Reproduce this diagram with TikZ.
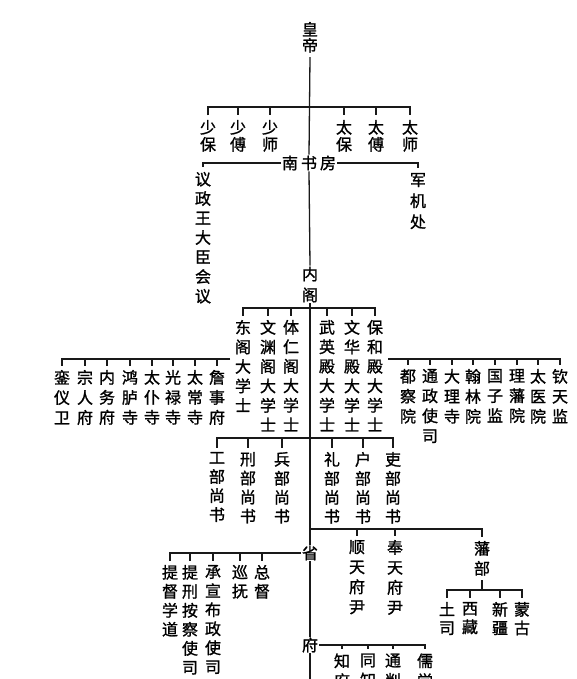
\documentclass[tikz,border=0pt]{standalone}
\usepackage{fontspec}
\newfontfamily\cjk[FakeBold=1.2]{Noto Sans CJK SC}
\newcommand\cjkA{\cjk\fontsize{16}{20}\selectfont}
\newcommand\cjkS[1]{\cjk\fontsize{16}{#1}\selectfont}
\begin{document}
\begin{tikzpicture}[x=1pt,y=-1pt,
 vt/.style={font=\cjkA,align=center,inner sep=0pt,outer xsep=0pt,outer ysep=4.5pt,anchor=north,text=black},
 tn/.style={font=\cjkA,align=center,inner sep=1pt,outer sep=0pt,fill=white,text=black},
 ln/.style={line width=1.3pt,draw=black!90}]
\useasboundingbox (0,0) rectangle (576,679);
\clip (0,0) rectangle (576,679);

% ---- top
\node[vt,font=\cjkS{16}] (hd) at (310,17.5) {皇\\帝};
\node[vt,font=\cjkS{17}] (sb) at (208,115.5) {少\\保};
\node[vt,font=\cjkS{17}] (sf) at (238,115.5) {少\\傅};
\node[vt,font=\cjkS{17}] (ss) at (270,115.5) {少\\师};
\node[vt,font=\cjkS{17}] (tb) at (344,115.5) {太\\保};
\node[vt,font=\cjkS{17}] (tf) at (376,115.5) {太\\傅};
\node[vt,font=\cjkS{17}] (ts) at (410,115.5) {太\\师};
\node[tn] (nsf) at (309,163) {南\hspace{3pt}书\hspace{3pt}房};
\node[vt,font=\cjkS{19.5}] (yz) at (203,167.5) {议\\政\\王\\大\\臣\\会\\议};
\node[vt,font=\cjkS{21}] (jjc) at (418,168.5) {军\\机\\处};
\node[tn,font=\cjkS{21}] (ng) at (310,284.5) {内\\阁};

% ---- grand secretaries
\node[vt,font=\cjkS{19.5}] (d1) at (243,315.5) {东\\阁\\大\\学\\士};
\node[vt,font=\cjkS{19.5}] (d2) at (268,315.5) {文\\渊\\阁\\大\\学\\士};
\node[vt,font=\cjkS{19.5}] (d3) at (291,315.5) {体\\仁\\阁\\大\\学\\士};
\node[vt,font=\cjkS{19.5}] (d4) at (327,315.5) {武\\英\\殿\\大\\学\\士};
\node[vt,font=\cjkS{19.5}] (d5) at (352,315.5) {文\\华\\殿\\大\\学\\士};
\node[vt,font=\cjkS{19.5}] (d6) at (375,315.5) {保\\和\\殿\\大\\学\\士};

% ---- left group
\node[vt] (l1) at (62,365.5) {銮\\仪\\卫};
\node[vt] (l2) at (85,365.5) {宗\\人\\府};
\node[vt] (l3) at (107,365.5) {内\\务\\府};
\node[vt] (l4) at (130,365.5) {鸿\\胪\\寺};
\node[vt] (l5) at (152,365.5) {太\\仆\\寺};
\node[vt] (l6) at (173,365.5) {光\\禄\\寺};
\node[vt] (l7) at (195,365.5) {太\\常\\寺};
\node[vt] (l8) at (217,365.5) {詹\\事\\府};

% ---- right group
\node[vt] (r1) at (408,364.5) {都\\察\\院};
\node[vt] (r2) at (430,364.5) {通\\政\\使\\司};
\node[vt] (r3) at (452,364.5) {大\\理\\寺};
\node[vt] (r4) at (473,364.5) {翰\\林\\院};
\node[vt] (r5) at (495,364.5) {国\\子\\监};
\node[vt] (r6) at (517,364.5) {理\\藩\\院};
\node[vt] (r7) at (538,364.5) {太\\医\\院};
\node[vt] (r8) at (560,364.5) {钦\\天\\监};

% ---- ministers
\node[vt,font=\cjkS{19}] (m1) at (217,447.5) {工\\部\\尚\\书};
\node[vt,font=\cjkS{19}] (m2) at (248,447.5) {刑\\部\\尚\\书};
\node[vt,font=\cjkS{19}] (m3) at (282,447.5) {兵\\部\\尚\\书};
\node[vt,font=\cjkS{19}] (m4) at (332,447.5) {礼\\部\\尚\\书};
\node[vt,font=\cjkS{19}] (m5) at (363,447.5) {户\\部\\尚\\书};
\node[vt,font=\cjkS{19}] (m6) at (393,447.5) {吏\\部\\尚\\书};

% ---- prefectures, fanbu
\node[vt] (st) at (357,535.5) {顺\\天\\府\\尹};
\node[vt] (ft) at (395,535.5) {奉\\天\\府\\尹};
\node[vt] (fb) at (482,536.5) {藩\\部};
\node[vt,font=\cjkS{18.5}] (f1) at (447,597.5) {土\\司};
\node[vt,font=\cjkS{18.5}] (f2) at (470,597.5) {西\\藏};
\node[vt,font=\cjkS{18.5}] (f3) at (500,597.5) {新\\疆};
\node[vt,font=\cjkS{18.5}] (f4) at (522,597.5) {蒙\\古};

% ---- province
\node[tn] (sh) at (310,553) {省};
\node[vt,font=\cjkS{19}] (p1) at (170,560.5) {提\\督\\学\\道};
\node[vt,font=\cjkS{19}] (p2) at (190,560.5) {提\\刑\\按\\察\\使\\司};
\node[vt,font=\cjkS{19}] (p3) at (213,560.5) {承\\宣\\布\\政\\使\\司};
\node[vt,font=\cjkS{19}] (p4) at (240,560.5) {巡\\抚};
\node[vt,font=\cjkS{19}] (p5) at (262,560.5) {总\\督};

% ---- prefecture
\node[tn] (fu) at (310,645) {府};
\node[vt] (q1) at (342,649) {知\\府};
\node[vt] (q2) at (368,649) {同\\知};
\node[vt] (q3) at (393,649) {通\\判};
\node[vt] (q4) at (425,649) {儒\\学};

% ---- coordinates
\coordinate (b1) at (310,107);
\coordinate (b2) at (310,308);
\coordinate (lb) at (230,359);
\coordinate (rb) at (388,359);
\coordinate (b3) at (310,438);
\coordinate (b4) at (310,529);
\coordinate (b5) at (482,590);
\coordinate (bot) at (310,679);

% ---- trunk
\draw[ln] (hd.south) -- (nsf.north);
\draw[ln] (nsf.south) -- (ng.north);
\draw[ln] (ng.south) -- (sh.north);
\draw[ln] (sh.south) -- (fu.north);
\draw[ln] (fu.south) -- (bot);

% ---- bars
\draw[ln] (sb.north) |- (b1) -| (ts.north);
\foreach \n in {sf,ss,tb,tf} \draw[ln] (\n.north |- b1) -- (\n.north);
\draw[ln] (nsf.west) -| (yz.north);
\draw[ln] (nsf.east) -| (jjc.north);
\draw[ln] (d1.north) |- (b2) -| (d6.north);
\foreach \n in {d2,d3,d4,d5} \draw[ln] (\n.north |- b2) -- (\n.north);
\draw[ln] (lb) -| (l1.north);
\foreach \n in {l2,l3,l4,l5,l6,l7,l8} \draw[ln] (\n.north |- lb) -- (\n.north);
\draw[ln] (rb) -| (r8.north);
\foreach \n in {r1,r2,r3,r4,r5,r6,r7} \draw[ln] (\n.north |- rb) -- (\n.north);
\draw[ln] (m1.north) |- (b3) -| (m6.north);
\foreach \n in {m2,m3,m4,m5} \draw[ln] (\n.north |- b3) -- (\n.north);
\draw[ln] (b4) -| (fb.north);
\foreach \n in {st,ft} \draw[ln] (\n.north |- b4) -- (\n.north);
\draw[ln] (fb.south) -- (b5);
\draw[ln] (f1.north) |- (b5) -| (f4.north);
\foreach \n in {f2,f3} \draw[ln] (\n.north |- b5) -- (\n.north);
\draw[ln] (sh.west) -| (p1.north);
\foreach \n in {p2,p3,p4,p5} \draw[ln] (\n.north |- sh.west) -- (\n.north);
\draw[ln] (fu.east) -| (q4.north);
\foreach \n in {q1,q2,q3} \draw[ln] (\n.north |- fu.east) -- (\n.north);
\end{tikzpicture}
\end{document}
